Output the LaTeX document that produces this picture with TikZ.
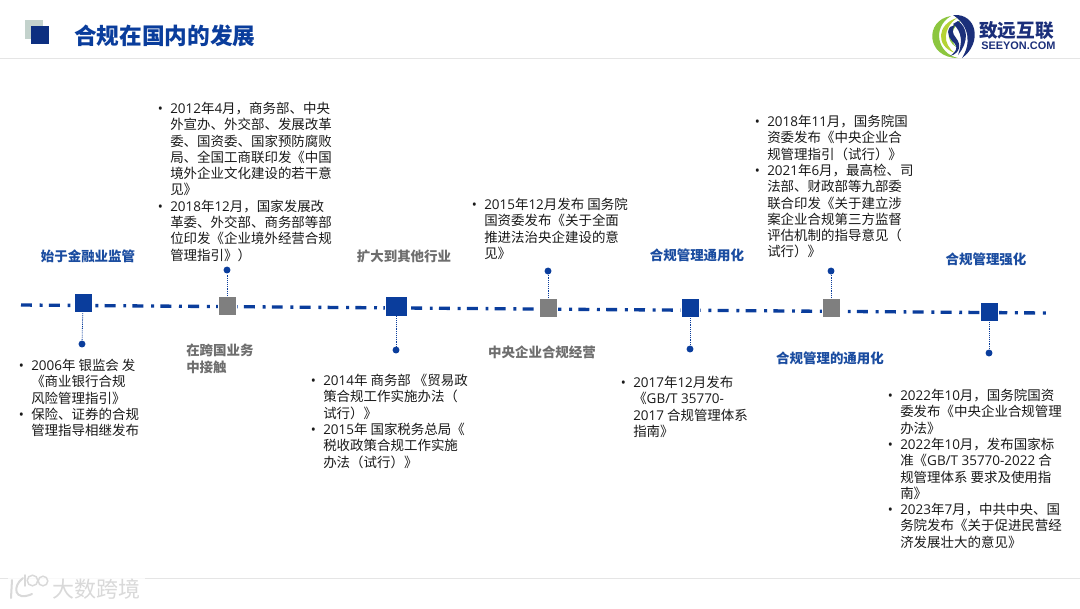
\documentclass[tikz,border=0pt]{standalone}
\usepackage{fontspec}
\setmainfont{Noto Sans CJK SC}
\setsansfont{Liberation Sans}
\newfontfamily\latf{Open Sans}
\definecolor{navy}{HTML}{0A3D9C}
\definecolor{deep}{HTML}{0C2F80}
\definecolor{grayb}{HTML}{7F7F7F}
\definecolor{graylab}{HTML}{6E6E6E}
\definecolor{bluelab}{HTML}{1A4CA0}
\definecolor{paleg}{HTML}{C3D2CC}
\definecolor{lgreen}{HTML}{8CC63F}
\definecolor{lgreenb}{HTML}{B5D334}
\definecolor{lognavy}{HTML}{1B2F7A}
\definecolor{wm}{HTML}{D9D9D9}
\newcommand{\bul}{\llap{{\latf •}\hspace{5.5pt}}}
\newcommand{\lat}[1]{{\latf #1}}
\tikzset{
  x=0.75pt,y=-0.75pt,
  bodytext/.style={anchor=north west,inner sep=0pt,align=left,font=\fontsize{10.1}{12.2}\selectfont,text=black!90},
  bluelabel/.style={inner sep=0pt,font=\fontsize{10.1}{12.6}\bfseries\selectfont,text=bluelab,align=left},
  graylabel/.style={inner sep=0pt,font=\fontsize{10.1}{12.6}\bfseries\selectfont,text=graylab,align=left},
  bluesq/.style={fill=navy,draw=white,line width=0.5pt,inner sep=0pt},
  graysq/.style={fill=grayb,draw=white,line width=0.5pt,inner sep=0pt},
  enddot/.style={circle,fill=navy,draw=none,inner sep=0pt,minimum size=5.2pt},
  stem/.style={navy,line width=0.6pt,dash pattern=on 0.7pt off 0.7pt},
  axisline/.style={navy,line width=2.5pt,dash pattern=on 8.2pt off 5.8pt on 2.2pt off 4.7pt},
  wmline/.style={wm,line cap=round},
}
\begin{document}
\begin{tikzpicture}
\useasboundingbox (0,0) rectangle (1080,608);
\fill[white] (0,0) rectangle (1080,608);
% header
\fill[paleg] (25,20) rectangle (43,39);
\fill[deep] (31,26) rectangle (49,44);
\node[anchor=west,inner sep=0pt,font=\fontsize{17}{20}\bfseries\selectfont,text=navy] (title) at (74,36) {合规在国内的发展};
\draw[black!10,line width=0.6pt] (0,58.5) -- (1080,58.5);
% logo
\fill[lgreen] (951,16) .. controls (924,20) and (926,58) .. (958,58) .. controls (938,54) and (931,28) .. (951,16) -- cycle;
\fill[lgreenb] (957,18) .. controls (937,24) and (935,46) .. (955,53) .. controls (942,44) and (943,28) .. (957,18) -- cycle;
\fill[lgreen] (962,20) .. controls (946,26) and (945,40) .. (956,47) .. controls (949,38) and (951,28) .. (962,20) -- cycle;
\fill[lognavy] (953,15) .. controls (978,13) and (982,44) .. (962,58) .. controls (971,44) and (970,26) .. (953,15) -- cycle;
\fill[lognavy] (958,21) .. controls (967,27) and (970,40) .. (958,55) .. controls (962,44) and (963,32) .. (953,24) -- cycle;
\fill[lognavy] (950,27) .. controls (945,34) and (951,40) .. (955,44) .. controls (958,48) and (956,52) .. (950,56) .. controls (961,53) and (961,44) .. (956,38) .. controls (952,33) and (952,30) .. (955,25) -- cycle;
\node[anchor=west,inner sep=0pt,font=\fontsize{14}{16}\bfseries\selectfont,text=lognavy] (brand) at (979,30) {致远互联};
\node[anchor=west,inner sep=0pt,font=\sffamily\fontsize{8.2}{10}\bfseries\selectfont,text=lognavy] (brandlat) at (981,46) {SEEYON.COM};
% footer + watermark
\draw[black!10,line width=0.6pt] (0,578) -- (1080,578);
\fill[white,opacity=0.8] (8,574) rectangle (145,583);
\draw[wmline,line width=1.5pt] (12,580) -- (11,598);
\draw[wmline,line width=1.5pt] (23,578) .. controls (12,586) and (14,602) .. (32,594);
\draw[wmline,line width=1.1pt] (25,575) -- (25,586);
\draw[wmline,line width=1.1pt] (32.5,580.5) circle[radius=5.3];
\draw[wmline,line width=1.1pt] (43,581) circle[radius=4.8];
\node[anchor=west,inner sep=0pt,font=\fontsize{16.5}{18}\selectfont,text=wm] (wmark) at (52,589) {大数跨境};
% axis
\coordinate (axisL) at (21,305);
\coordinate (axisR) at (1046,313);
\draw[axisline] (axisL) -- (axisR);
% squares
\node[bluesq,minimum width=13.5pt,minimum height=14.5pt] (s1) at (83,303) {};
\node[graysq,minimum width=13.5pt,minimum height=14.5pt] (s2) at (227,306) {};
\node[bluesq,minimum width=16.5pt,minimum height=15pt] (s3) at (396,306) {};
\node[graysq,minimum width=13.5pt,minimum height=14.5pt] (s4) at (548,308) {};
\node[bluesq,minimum width=13.5pt,minimum height=14.5pt] (s5) at (690,308) {};
\node[graysq,minimum width=13.5pt,minimum height=14.5pt] (s6) at (831,308) {};
\node[bluesq,minimum width=13.5pt,minimum height=14.5pt] (s7) at (989,312) {};
% dots
\node[enddot] (d1) at (82,344) {};
\node[enddot] (d2) at (227,270) {};
\node[enddot] (d3) at (396,350) {};
\node[enddot] (d4) at (548,271) {};
\node[enddot] (d5) at (690,349) {};
\node[enddot] (d6) at (831,271) {};
\node[enddot] (d7) at (989,353) {};
\foreach \a/\b in {s1/d1,s2/d2,s3/d3,s4/d4,s5/d5,s6/d6,s7/d7} \draw[stem] (\a) -- (\b);
% labels
\node[bluelabel] (l1) at (88,256) {始于金融业监管};
\node[graylabel,anchor=north west] (l2) at (186,344) {在跨国业务\\中接触};
\node[graylabel] (l3) at (404,256) {扩大到其他行业};
\node[graylabel] (l4) at (542,352) {中央企业合规经营};
\node[bluelabel] (l5) at (697,255) {合规管理通用化};
\node[bluelabel] (l6) at (830,358) {合规管理的通用化};
\node[bluelabel] (l7) at (986,259) {合规管理强化};
% text
\node[bodytext] (t1) at (31,359) {\bul\lat{2006}年 银监会 发\\《商业银行合规\\风险管理指引》\\\bul 保险、证券的合规\\管理指导相继发布};
\node[bodytext] (t2) at (170,102) {\bul\lat{2012}年\lat{4}月，商务部、中央\\外宣办、外交部、发展改革\\委、国资委、国家预防腐败\\局、全国工商联印发《中国\\境外企业文化建设的若干意\\见》\\\bul\lat{2018}年\lat{12}月，国家发展改\\革委、外交部、商务部等部\\位印发《企业境外经营合规\\管理指引》）};
\node[bodytext] (t3) at (323,374) {\bul\lat{2014}年 商务部 《贸易政\\策合规工作实施办法（\\试行）》\\\bul\lat{2015}年 国家税务总局《\\税收政策合规工作实施\\办法（试行）》};
\node[bodytext] (t4) at (484,198) {\bul\lat{2015}年\lat{12}月发布 国务院\\国资委发布《关于全面\\推进法治央企建设的意\\见》};
\node[bodytext] (t5) at (633,376) {\bul\lat{2017}年\lat{12}月发布\\《\lat{GB/T 35770-}\\\lat{2017} 合规管理体系\\指南》};
\node[bodytext] (t6) at (767,115) {\bul\lat{2018}年\lat{11}月，国务院国\\资委发布《中央企业合\\规管理指引（试行）》\\\bul\lat{2021}年\lat{6}月，最高检、司\\法部、财政部等九部委\\联合印发《关于建立涉\\案企业合规第三方监督\\评估机制的指导意见（\\试行）》};
\node[bodytext] (t7) at (900,389) {\bul\lat{2022}年\lat{10}月，国务院国资\\委发布《中央企业合规管理\\办法》\\\bul\lat{2022}年\lat{10}月，发布国家标\\准《\lat{GB/T 35770-2022} 合\\规管理体系 要求及使用指\\南》\\\bul\lat{2023}年\lat{7}月，中共中央、国\\务院发布《关于促进民营经\\济发展壮大的意见》};
\end{tikzpicture}
\end{document}
